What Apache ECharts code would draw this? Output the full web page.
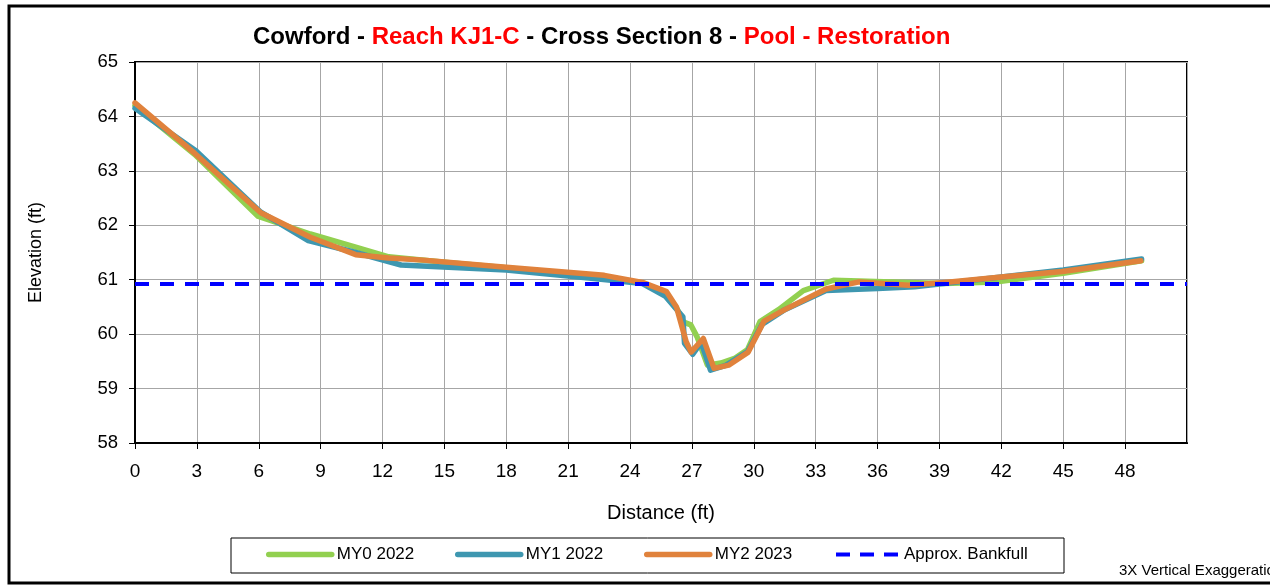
<!DOCTYPE html>
<html>
<head>
<meta charset="utf-8">
<title>Cowford - Reach KJ1-C - Cross Section 8</title>
<script src="https://cdn.jsdelivr.net/npm/echarts@6/dist/echarts.min.js"></script>
<style>
    html, body {margin: 0; padding: 0; background: #fff;}
    #container {width: 1270px; height: 587px;}
</style>
</head>
<body>
<div id="container"></div>
<script>
//断面数据 (ft)
var my0Dist = [0, 2.9, 5.95, 8.5, 10.7, 12.3, 15, 18, 21, 23.5, 24.7, 25.6, 26.3, 26.6, 26.95, 27.25, 27.75, 28.4, 29.1, 29.7, 30.3, 31.2, 32.4, 33.86, 35.5, 37.5, 39.2, 41.8, 45, 48.8];
var my0Elev = [64.2, 63.3, 62.17, 61.84, 61.6, 61.42, 61.32, 61.22, 61.1, 61.0, 60.93, 60.76, 60.45, 60.22, 60.17, 59.95, 59.43, 59.47, 59.56, 59.72, 60.23, 60.45, 60.8, 60.99, 60.97, 60.95, 60.93, 60.96, 61.12, 61.35];

var my1Dist = [0, 2.95, 6.1, 8.4, 10.7, 12.9, 18, 22, 24.6, 25.7, 26.56, 26.64, 27.04, 27.45, 27.9, 28.6, 29.7, 30.4, 31.5, 33.5, 36, 37.8, 39.2, 42, 45, 48.8];
var my1Elev = [64.15, 63.37, 62.24, 61.72, 61.5, 61.27, 61.18, 61.03, 60.93, 60.7, 60.32, 59.83, 59.63, 59.85, 59.34, 59.42, 59.68, 60.18, 60.45, 60.8, 60.84, 60.87, 60.93, 61.05, 61.18, 61.38];

var my2Dist = [0, 2.9, 6.1, 8.5, 10.7, 12.3, 14, 18, 22.75, 24.6, 25.77, 26.25, 26.72, 26.96, 27.55, 28.07, 28.78, 29.73, 30.5, 31.5, 33.5, 35.1, 37.5, 39.25, 42, 44.95, 48.76];
var my2Elev = [64.25, 63.32, 62.23, 61.78, 61.46, 61.4, 61.36, 61.23, 61.08, 60.95, 60.78, 60.5, 59.86, 59.67, 59.92, 59.37, 59.43, 59.67, 60.24, 60.45, 60.83, 60.96, 60.9, 60.95, 61.05, 61.15, 61.35];

var bankfullDist = [0, 51];
var bankfullElev = [60.92, 60.92];

var seriesNames = ['MY0 2022', 'MY1 2022', 'MY2 2023', 'Approx. Bankfull'];
var seriesColors = ['#92D050', '#3E97B0', '#E0823C', '#0000FF'];
var legendLeft = [266, 455, 644, 834];

var xTicks = {min: 0, max: 51, interval: 3};
var yTicks = {min: 58, max: 65, interval: 1};

var toPairs = function (xs, ys) {
    var out = [];
    for (var i = 0; i < xs.length; i++) {
        out.push([xs[i], ys[i]]);
    }
    return out;
};

var myChart = echarts.init(document.getElementById('container'));

var lineSeries = function (idx, xs, ys) {
    return {
        name: seriesNames[idx],
        type: 'line',
        data: toPairs(xs, ys),
        symbol: 'none',
        smooth: false,
        color: seriesColors[idx],
        lineStyle: {width: 5.5, color: seriesColors[idx], cap: 'round', join: 'round'}
    };
};

//图例 每项单独定位, 只画线不画圆点
var legends = [];
for (var i = 0; i < seriesNames.length; i++) {
    var dashed = (i == 3);
    legends.push({
        data: [seriesNames[i]],
        left: legendLeft[i],
        top: 546,
        padding: 0,
        itemWidth: 63,
        itemHeight: 14,
        itemGap: 6,
        selectedMode: false,
        itemStyle: {opacity: 0},
        lineStyle: dashed
            ? {width: 4, color: seriesColors[i], type: [14, 10], cap: 'butt'}
            : {width: 5.5, color: seriesColors[i], type: 'solid', cap: 'round'},
        textStyle: {fontFamily: 'Arial, "Liberation Sans"', fontSize: 17, color: '#000', padding: [0, 0, 0, 0]}
    });
}

myChart.setOption({
    backgroundColor: '#fff',
    animation: false,
    title: {
        text: '{k|Cowford - }{r|Reach KJ1-C}{k| - Cross Section 8 - }{r|Pool - Restoration}',
        left: 253,
        top: 25,
        padding: 0,
        textStyle: {
            rich: {
                k: {fontFamily: 'Arial, "Liberation Sans"', fontSize: 24, fontWeight: 'bold', color: '#000'},
                r: {fontFamily: 'Arial, "Liberation Sans"', fontSize: 24, fontWeight: 'bold', color: '#FF0000'}
            }
        }
    },
    legend: legends,
    grid: {
        left: 135,
        right: 83,
        top: 62,
        bottom: 144,
        show: true,
        borderColor: '#000',
        borderWidth: 2,
        backgroundColor: 'transparent'
    },
    xAxis: {
        type: 'value',
        min: xTicks.min,
        max: xTicks.max,
        interval: xTicks.interval,
        name: 'Distance (ft)',
        nameLocation: 'middle',
        nameGap: 60,
        nameTextStyle: {fontFamily: 'Arial, "Liberation Sans"', fontSize: 20, color: '#000'},
        axisLine: {show: true, onZero: false, lineStyle: {color: '#000', width: 2}},
        axisTick: {show: true, inside: false, length: 6, lineStyle: {color: '#000', width: 1}},
        axisLabel: {
            margin: 19,
            showMaxLabel: false,
            fontFamily: 'Arial, "Liberation Sans"',
            fontSize: 19,
            color: '#000'
        },
        splitLine: {show: true, lineStyle: {color: '#A6A6A6', width: 1}}
    },
    yAxis: {
        type: 'value',
        min: yTicks.min,
        max: yTicks.max,
        interval: yTicks.interval,
        name: 'Elevation (ft)',
        nameLocation: 'middle',
        nameGap: 90,
        nameRotate: 90,
        nameTextStyle: {fontFamily: 'Arial, "Liberation Sans"', fontSize: 18, color: '#000'},
        axisLine: {show: true, onZero: false, lineStyle: {color: '#000', width: 2}},
        axisTick: {show: true, inside: false, length: 6, lineStyle: {color: '#000', width: 1}},
        axisLabel: {
            margin: 17,
            fontFamily: 'Arial, "Liberation Sans"',
            fontSize: 18.5,
            color: '#000'
        },
        splitLine: {show: true, lineStyle: {color: '#A6A6A6', width: 1}}
    },
    graphic: [
        {   //外框
            type: 'rect',
            silent: true,
            z: -1,
            shape: {x: 9, y: 6, width: 1300, height: 577},
            style: {fill: 'transparent', stroke: '#000', lineWidth: 3}
        },
        {   //图例框
            type: 'rect',
            silent: true,
            shape: {x: 231, y: 538, width: 833, height: 35},
            style: {fill: 'transparent', stroke: '#000', lineWidth: 1}
        },
        {
            type: 'text',
            silent: true,
            x: 1119,
            y: 578,
            style: {
                text: '3X Vertical Exaggeration',
                fontFamily: 'Arial, "Liberation Sans"',
                fontSize: 15,
                fill: '#000',
                textVerticalAlign: 'bottom'
            }
        }
    ],
    series: [
        lineSeries(0, my0Dist, my0Elev),
        lineSeries(1, my1Dist, my1Elev),
        lineSeries(2, my2Dist, my2Elev),
        {
            name: seriesNames[3],
            type: 'line',
            data: toPairs(bankfullDist, bankfullElev),
            symbol: 'none',
            color: seriesColors[3],
            z: 5,
            lineStyle: {width: 4, color: seriesColors[3], type: [14, 11], cap: 'butt'}
        }
    ]
});
</script>
</body>
</html>
